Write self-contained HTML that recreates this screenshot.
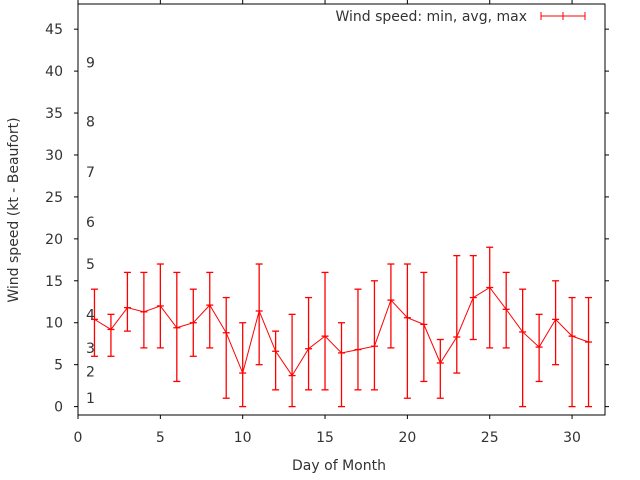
<!DOCTYPE html>
<html><head><meta charset="utf-8"><style>body{margin:0;background:#fff}svg{display:block;font-family:"DejaVu Sans","Liberation Sans",sans-serif}</style></head>
<body>
<svg id="c" width="640" height="480"></svg>
<script>
const days=[1,2,3,4,5,6,7,8,9,10,11,12,13,14,15,16,17,18,19,20,21,22,23,24,25,26,27,28,29,30,31];
const avgs=[10.4,9.2,11.8,11.3,12,9.4,10,12.1,8.8,4,11.4,6.6,3.7,6.9,8.4,6.4,6.8,7.2,12.7,10.6,9.8,5.2,8.3,13,14.2,11.6,8.9,7.1,10.4,8.4,7.7];
const mins=[6,6,9,7,7,3,6,7,1,0,5,2,0,2,2,0,2,2,7,1,3,1,4,8,7,7,0,3,5,0,0];
const maxs=[14,11,16,16,17,16,14,16,13,10,17,9,11,13,16,10,14,15,17,17,16,8,18,18,19,16,14,11,15,13,13];
const xTicks=[0,5,10,15,20,25,30];
const yTicks=[0,5,10,15,20,25,30,35,40,45];
const bftLabels=["1","2","3","4","5","6","7","8","9"];
const bftVals=[1,4.2,7,11,17,22,28,34,41];
const L=78,R=605,T=4,B=415,xmin=0,xmax=32,ymin=-1,ymax=48;
const X=v=>L+(v-xmin)/(xmax-xmin)*(R-L);
const Y=v=>B-(v-ymin)/(ymax-ymin)*(B-T);
const s=document.getElementById('c');const NS='http://www.w3.org/2000/svg';
function el(t,a,txt){const e=document.createElementNS(NS,t);for(const k in a)e.setAttribute(k,a[k]);if(txt!==undefined)e.textContent=txt;s.appendChild(e);return e;}
let e;
e=el('rect',{x:L,y:T,width:R-L,height:B-T,fill:'none',stroke:'#000','stroke-width':1});

xTicks.forEach(v=>{const x=X(v);
e=el('line',{x1:x,x2:x,y1:B,y2:B+4,stroke:'#000'});
e=el('line',{x1:x,x2:x,y1:T,y2:T-4,stroke:'#000'});
e=el('text',{x:x,y:442,'text-anchor':'middle','font-size':14,fill:'#333'},String(v));});
yTicks.forEach(v=>{const y=Y(v);
e=el('line',{x1:L-4,x2:L,y1:y,y2:y,stroke:'#000'});
e=el('line',{x1:R,x2:R+4,y1:y,y2:y,stroke:'#000'});
e=el('text',{x:63,y:y+5,'text-anchor':'end','font-size':14,fill:'#333'},String(v));});
bftLabels.forEach((t,i)=>{e=el('text',{x:86,y:Y(bftVals[i])+5,'font-size':14,fill:'#333'},t);});
e=el('text',{x:339,y:470,'text-anchor':'middle','font-size':14,fill:'#333'},'Day of Month');
e=el('text',{x:18,y:210,'text-anchor':'middle','font-size':14,fill:'#333',transform:'rotate(-90 18 210)'},'Wind speed (kt - Beaufort)');
e=el('polyline',{points:days.map((d,i)=>X(d)+','+Y(avgs[i])).join(' '),fill:'none',stroke:'#f00','stroke-width':1});

days.forEach((d,i)=>{const x=X(d);
e=el('line',{x1:x,x2:x,y1:Y(mins[i]),y2:Y(maxs[i]),stroke:'#f00','stroke-width':1.3});
[mins[i],maxs[i],avgs[i]].forEach(v=>{e=el('line',{x1:x-3.5,x2:x+3.5,y1:Y(v),y2:Y(v),stroke:'#f00','stroke-width':1.3});});});
e=el('text',{x:527,y:21,'text-anchor':'end','font-size':14,fill:'#333'},'Wind speed: min, avg, max');
e=el('line',{x1:541,x2:585,y1:16,y2:16,stroke:'#f00'});
[541,563,585].forEach(x=>{e=el('line',{x1:x,x2:x,y1:12,y2:20,stroke:'#f00'});});
</script>
</body></html>
